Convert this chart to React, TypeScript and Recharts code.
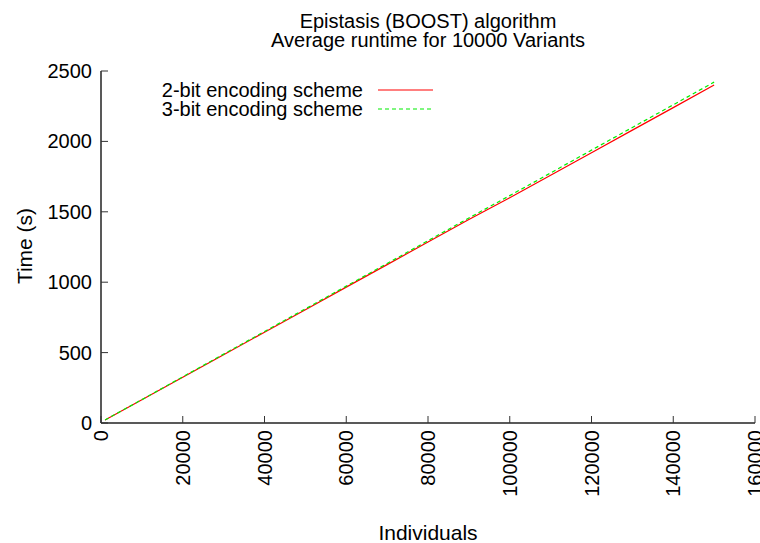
import React from 'react';
import { LineChart, Line, XAxis, YAxis, Legend } from 'recharts';

const individuals = [1000, 10000, 20000, 30000, 40000, 50000, 60000, 70000, 80000, 90000, 100000, 110000, 120000, 130000, 140000, 150000];
const twoBit = [22, 165, 325, 485, 645, 805, 965, 1125, 1285, 1445, 1600, 1760, 1920, 2080, 2240, 2400];
const threeBit = [22, 166, 328, 489, 650, 811, 972, 1133, 1295, 1456, 1615, 1776, 1938, 2099, 2260, 2421];
const xTicks = [0, 20000, 40000, 60000, 80000, 100000, 120000, 140000, 160000];
const yTicks = [0, 500, 1000, 1500, 2000, 2500];
const seriesNames = ['2-bit encoding scheme', '3-bit encoding scheme'];
const seriesColors = ['#ff0000', '#00ee00'];
const titleLines = ['Epistasis (BOOST) algorithm', 'Average runtime for 10000 Variants'];

const data = individuals.map((n, i) => ({ n, twoBit: twoBit[i], threeBit: threeBit[i] }));

const FONT = '"Liberation Sans", Arial, Helvetica, sans-serif';
const AX = '#222';
const TK = '#333';

const BottomTick = (p: any) => (
  <g>
    <line x1={p.x} x2={p.x} y1={p.y} y2={p.y - 7} stroke={TK} strokeWidth={1} />
    <text transform={`translate(${p.x},${p.y + 7}) rotate(-90)`} textAnchor="end" dominantBaseline="central" fontSize={20} fontFamily={FONT} fill="#000">{p.payload.value}</text>
  </g>
);
const TopTick = (p: any) => (
  <line x1={p.x} x2={p.x} y1={p.y} y2={p.y + 7} stroke={TK} strokeWidth={1} />
);
const LeftTick = (p: any) => (
  <g>
    <line x1={p.x} x2={p.x + 7} y1={p.y} y2={p.y} stroke={TK} strokeWidth={1} />
    <text x={p.x - 9} y={p.y} textAnchor="end" dominantBaseline="central" fontSize={20} fontFamily={FONT} fill="#000">{p.payload.value}</text>
  </g>
);
const RightTick = (p: any) => (
  <line x1={p.x} x2={p.x - 7} y1={p.y} y2={p.y} stroke={TK} strokeWidth={1} />
);

const renderLegend = () => (
  <svg width={760} height={130} style={{ display: 'block', overflow: 'visible' }}>
    <text x={428} y={28} textAnchor="middle" fontSize={20} fontFamily={FONT} fill="#000">{titleLines[0]}</text>
    <text x={428} y={47} textAnchor="middle" fontSize={20} fontFamily={FONT} fill="#000">{titleLines[1]}</text>
    {seriesNames.map((name, i) => (
      <g key={name}>
        <text x={363} y={90 + i * 19} textAnchor="end" dominantBaseline="central" fontSize={20} fontFamily={FONT} fill="#000">{name}</text>
        <line x1={378} x2={433} y1={90 + i * 19} y2={90 + i * 19} stroke={seriesColors[i]} strokeWidth={1.2} strokeDasharray={i === 1 ? '4 3' : undefined} />
      </g>
    ))}
  </svg>
);

export default function App() {
  return (
    <div style={{ position: 'absolute', left: 0, top: 0, width: 760, height: 543, background: '#fff' }}>
      <LineChart width={760} height={543} data={data} margin={{ top: 71, right: 5, bottom: 0, left: 0 }}>
        <XAxis dataKey="n" type="number" domain={[0, 160000]} ticks={xTicks} interval={0} height={120}
          axisLine={{ stroke: AX, strokeWidth: 1.5 }} tickLine={false} tickSize={0} tickMargin={0} tick={BottomTick}
          label={{ content: (lp: any) => (
            <text x={428} y={540} textAnchor="middle" fontSize={21} fontFamily={FONT} fill="#000">Individuals</text>
          ) }} />
        <XAxis xAxisId="top" orientation="top" dataKey="n" type="number" domain={[0, 160000]} ticks={xTicks} interval={0} height={0}
          axisLine={{ stroke: AX, strokeWidth: 1.5 }} tickLine={false} tickSize={0} tickMargin={0} tick={TopTick} />
        <YAxis type="number" domain={[0, 2500]} ticks={yTicks} interval={0} width={101}
          axisLine={{ stroke: AX, strokeWidth: 1.5 }} tickLine={false} tickSize={0} tickMargin={0} tick={LeftTick}
          label={{ content: () => (
            <text transform="translate(24,246) rotate(-90)" textAnchor="middle" dominantBaseline="central" fontSize={21} fontFamily={FONT} fill="#000">Time (s)</text>
          ) }} />
        <YAxis yAxisId="right" orientation="right" type="number" domain={[0, 2500]} ticks={yTicks} interval={0} width={0}
          axisLine={{ stroke: AX, strokeWidth: 1.5 }} tickLine={false} tickSize={0} tickMargin={0} tick={RightTick} />
        <Legend layout="vertical" align="center" verticalAlign="middle" content={renderLegend}
          wrapperStyle={{ position: 'absolute', left: 0, top: 0, width: 760, height: 130 }} />
        <Line type="linear" dataKey="twoBit" name={seriesNames[0]} stroke={seriesColors[0]} strokeWidth={1.2} dot={false} isAnimationActive={false} />
        <Line type="linear" dataKey="threeBit" name={seriesNames[1]} stroke={seriesColors[1]} strokeWidth={1.2} strokeDasharray="4 3" dot={false} isAnimationActive={false} />
      </LineChart>
    </div>
  );
}
